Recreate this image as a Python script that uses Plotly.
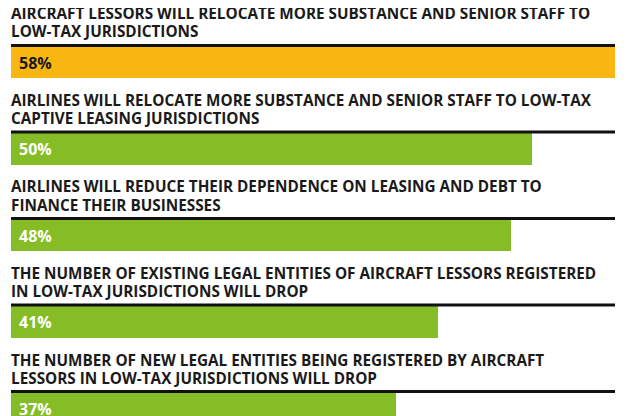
import plotly.graph_objects as go

labels = [
    "AIRCRAFT LESSORS WILL RELOCATE MORE SUBSTANCE AND SENIOR STAFF TO<br>LOW-TAX JURISDICTIONS",
    "AIRLINES WILL RELOCATE MORE SUBSTANCE AND SENIOR STAFF TO LOW-TAX<br>CAPTIVE LEASING JURISDICTIONS",
    "AIRLINES WILL REDUCE THEIR DEPENDENCE ON LEASING AND DEBT TO<br>FINANCE THEIR BUSINESSES",
    "THE NUMBER OF EXISTING LEGAL ENTITIES OF AIRCRAFT LESSORS REGISTERED<br>IN LOW-TAX JURISDICTIONS WILL DROP",
    "THE NUMBER OF NEW LEGAL ENTITIES BEING REGISTERED BY AIRCRAFT<br>LESSORS IN LOW-TAX JURISDICTIONS WILL DROP",
]
values = [58, 50, 48, 41, 37]
bar_colors = ["#F9B512", "#86BC25", "#86BC25", "#86BC25", "#86BC25"]
value_text_colors = ["#1a1a1a", "#ffffff", "#ffffff", "#ffffff", "#ffffff"]

cats = [f"c{i}" for i in range(len(values))]
FONT = "Open Sans"

fig = go.Figure()
fig.add_trace(go.Bar(
    x=values, y=cats, orientation="h",
    marker=dict(color=bar_colors, line=dict(width=0)),
    width=0.36, hoverinfo="skip",
))

shapes = []
annotations = []
for i, (lab, v, tc) in enumerate(zip(labels, values, value_text_colors)):
    shapes.append(dict(
        type="rect", xref="x domain", x0=0, x1=1,
        yref="y", ysizemode="pixel", yanchor=i, y0=15.5, y1=18.5,
        fillcolor="#111111", line=dict(width=0), layer="above",
    ))
    lines = lab.split("<br>")
    for k, line in enumerate(lines):
        annotations.append(dict(
            x=0, y=cats[i], xref="x", yref="y", xanchor="left", yanchor="bottom",
            text=line, showarrow=False, align="left",
            font=dict(family=FONT, size=15.3, color="#1a1a1a", weight="bold"),
            xshift=-2, yshift=19 + 18 * (len(lines) - 1 - k),
        ))
    annotations.append(dict(
        x=0, y=cats[i], xref="x", yref="y", xanchor="left", yanchor="middle",
        text=f"{v}%", showarrow=False,
        font=dict(family=FONT, size=16, color=tc, weight="bold"),
        xshift=6, yshift=0,
    ))

# page body has an 8px margin: figure is placed at (8, 8) in the window
fig.update_layout(
    width=621, height=408,
    margin=dict(l=3, r=14, t=0, b=0),
    paper_bgcolor="white", plot_bgcolor="white",
    showlegend=False,
    xaxis=dict(range=[0, max(values)], visible=False, fixedrange=True),
    yaxis=dict(categoryorder="array", categoryarray=cats,
               range=[4.0867, -0.630], visible=False, fixedrange=True),
    shapes=shapes, annotations=annotations,
    bargap=0,
)
fig.write_html("out.html")
